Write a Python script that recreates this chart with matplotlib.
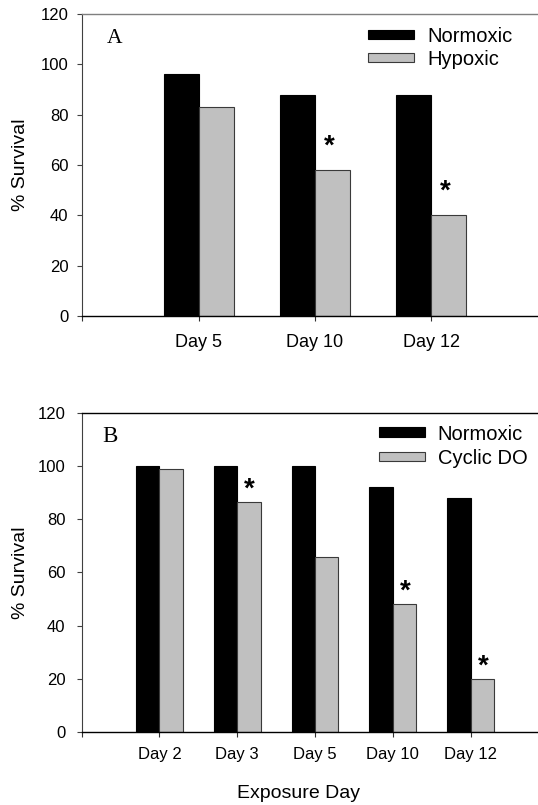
import matplotlib
matplotlib.use('Agg')
import matplotlib.pyplot as plt
import numpy as np

plt.rcParams['font.family'] = ['Liberation Sans', 'DejaVu Sans']

# ---------------- data ----------------
days_a = ['Day 5', 'Day 10', 'Day 12']
normoxic_a = [96, 88, 88]
hypoxic_a = [83, 58, 40]
sig_a = [False, True, True]

days_b = ['Day 2', 'Day 3', 'Day 5', 'Day 10', 'Day 12']
normoxic_b = [100, 100, 100, 92, 88]
cyclic_b = [98.7, 86.3, 65.6, 48, 20]
sig_b = [False, True, False, True, True]

yticks = [0, 20, 40, 60, 80, 100, 120]

# ---------------- layout ----------------
W, H = 538, 805
fig = plt.figure(figsize=(W / 100, H / 100), dpi=100)


def px_axes(l, t, r, b):
    return [l / W, 1 - b / H, (r - l) / W, (b - t) / H]


axA = fig.add_axes(px_axes(82.4, 14, 82.4 + 4 * 116.3, 316))
axB = fig.add_axes(px_axes(81.6, 412.7, 81.6 + 6 * 77.8, 732))

GRAY = '#c0c0c0'
EDGE = '#3a3a3a'


def panel(ax, days, norm, treat, sig, treat_label, letter, letter_xy, letter_fs,
          xt_fs, xt_pad, yt_pad, top_color, star_dx, star_dy,
          leg_xy, leg_hl, leg_hh, leg_tp, leg_ls, ylab_x):
    n = len(days)
    x = np.arange(1, n + 1)
    w = 0.3
    ax.bar(x - w / 2, norm, w, color='black', edgecolor='black', linewidth=0.8,
           label='Normoxic', zorder=2)
    ax.bar(x + w / 2, treat, w, color=GRAY, edgecolor=EDGE, linewidth=0.8,
           label=treat_label, zorder=2)
    ax.set_xlim(0, n + 1)
    ax.set_ylim(0, 120)
    ax.set_xticks(np.arange(0, n + 2))
    ax.set_xticklabels([''] + days + [''], fontsize=xt_fs)
    ax.set_yticks(yticks)
    ax.set_yticklabels([str(v) for v in yticks], fontsize=12)
    ax.tick_params(axis='x', direction='out', length=3.6, width=0.8,
                   color='#303030', pad=xt_pad)
    ax.tick_params(axis='y', direction='out', length=3.6, width=0.8,
                   color='#404040', pad=yt_pad)
    ax.spines['right'].set_visible(False)
    ax.spines['top'].set_color(top_color)
    ax.spines['top'].set_linewidth(1.0)
    ax.spines['left'].set_color('#404040')
    ax.spines['left'].set_linewidth(0.8)
    ax.spines['bottom'].set_color('black')
    ax.spines['bottom'].set_linewidth(1.0)

    for i in range(n):
        if sig[i]:
            ax.annotate('*', xy=(x[i] + w / 2, treat[i]), xytext=(star_dx, star_dy),
                        textcoords='offset points', ha='center', va='center',
                        fontsize=20, fontweight='bold')

    ax.text(letter_xy[0], letter_xy[1], letter, transform=ax.transAxes,
            ha='center', va='baseline', fontsize=letter_fs,
            family=['Liberation Serif', 'DejaVu Serif'])

    ax.set_ylabel('% Survival', fontsize=14)
    ax.yaxis.set_label_coords(ylab_x, 0.5)

    ax.legend(loc='upper left', bbox_to_anchor=(leg_xy[0] / W, 1 - leg_xy[1] / H),
              bbox_transform=fig.transFigure, frameon=False, fontsize=14.5,
              borderpad=0, borderaxespad=0, handlelength=leg_hl,
              handleheight=leg_hh, handletextpad=leg_tp, labelspacing=leg_ls)


panel(axA, days_a, normoxic_a, hypoxic_a, sig_a, 'Hypoxic', 'A',
      ((114.7 - 82.4) / 465.2, (316 - 42.7) / 302), 15.5,
      13, 9.0, 6.5, '#7f7f7f', -2.2, 17,
      (368.3, 27.0), 2.27, 0.30, 0.66, 0.18, (29 - 82.4) / 465.2)

panel(axB, days_b, normoxic_b, cyclic_b, sig_b, 'Cyclic DO', 'B',
      ((109.7 - 81.6) / 466.8, (732 - 442.3) / 319.3), 16.5,
      12, 7.5, 8.0, 'black', 0.5, 9,
      (378.5, 424.5), 2.33, 0.38, 0.6, 0.26, (29 - 81.6) / 466.8)

axB.set_xlabel('Exposure Day', fontsize=14)
axB.xaxis.set_label_coords(0.4636, -0.166)

fig.savefig('out.png', dpi=100)
